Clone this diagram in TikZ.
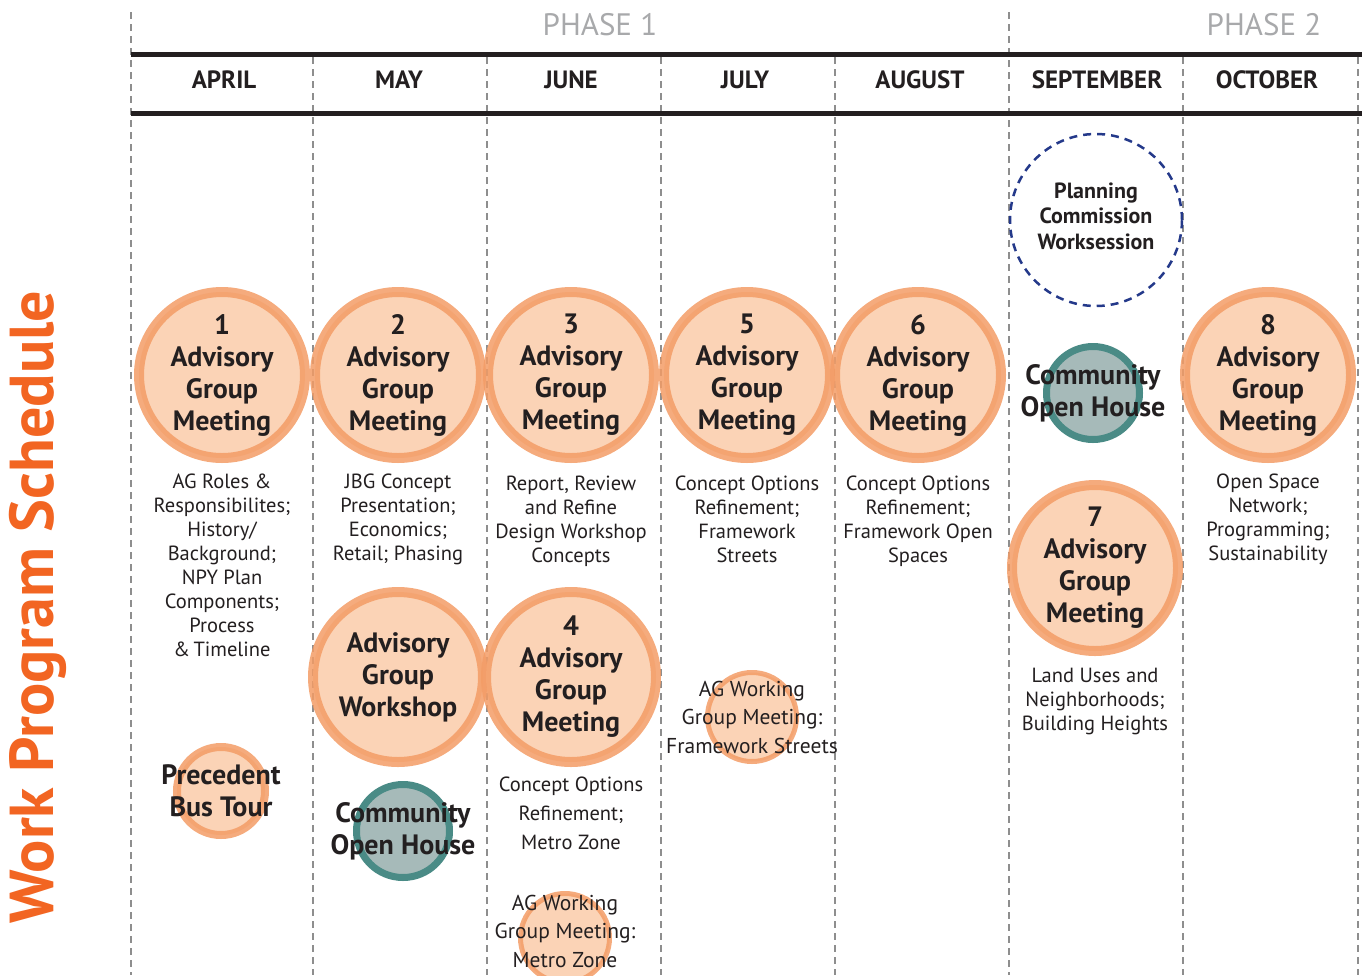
\documentclass[tikz,border=0pt]{standalone}
\usepackage{fontspec}
\setmainfont{PT Sans}
\usetikzlibrary{positioning}
\definecolor{ink}{HTML}{231F20}
\definecolor{ringorange}{HTML}{F39C66}
\definecolor{peach}{HTML}{FBD3B6}
\definecolor{tealring}{HTML}{4A8B86}
\definecolor{slate}{HTML}{A6BAB9}
\definecolor{navy}{HTML}{24398A}
\definecolor{titleorange}{HTML}{F26522}
\definecolor{phasegray}{HTML}{A8A9AB}
\definecolor{gridgray}{HTML}{8E8E8E}
\tikzset{
  agcircle/.style={
    circle,
    fill=peach,
    draw=ringorange,
    draw opacity=0.85,
    line width=10pt,
    inner sep=0pt,
    minimum size=166pt
  },
  bigcircle/.style={agcircle, minimum size=170pt},
  tourcircle/.style={agcircle, line width=8pt, minimum size=88pt},
  workcircle/.style={agcircle, line width=5pt, minimum size=89pt},
  opencircle/.style={circle, fill=slate, draw=tealring, line width=7pt, inner sep=0pt, minimum size=93pt},
  pccircle/.style={circle, draw=navy, line width=2.5pt, dash pattern=on 8pt off 6pt, inner sep=0pt, minimum size=172pt},
  circtext/.style={
    align=center,
    inner sep=0pt,
    font=\fontsize{28}{32}\selectfont\bfseries,
    text=ink
  },
  pctext/.style={circtext, font=\fontsize{22}{25.5}\selectfont\bfseries},
  desc/.style={
    align=center,
    inner sep=0pt,
    font=\fontsize{20.5}{24}\selectfont,
    text=ink
  },
  wgtext/.style={desc, font=\fontsize{21.5}{28.5}\selectfont},
  month/.style={font=\fontsize{25}{30}\selectfont\bfseries, text=ink, inner sep=0pt},
  phase/.style={font=\fontsize{31}{36}\selectfont, text=phasegray, inner sep=0pt},
  monthrule/.style={line width=5pt, draw=ink},
  colline/.style={line width=2pt, draw=gridgray, dash pattern=on 7pt off 5pt}
}

\begin{document}
\begin{tikzpicture}[x=1pt,y=-1pt]
  \useasboundingbox (0,0) rectangle (1362,975);

  % grid
  \draw[colline] (131,12) -- (131,975);
  \draw[colline] (1009,12) -- (1009,975);
  \draw[colline] (313,57) -- (313,975);
  \draw[colline] (487,57) -- (487,975);
  \draw[colline] (661,57) -- (661,975);
  \draw[colline] (835,57) -- (835,975);
  \draw[colline] (1183,57) -- (1183,975);
  \draw[colline] (1358,57) -- (1358,975);
  \draw[monthrule] (131,54) -- (1362,54);
  \draw[monthrule] (131,113) -- (1362,113);

  % header
  \node[phase] (ph1) at (600,25) {PHASE 1};
  \node[phase] (ph2) at (1264,25) {PHASE 2};
  \node[month] (apr) at (224,80) {APRIL};
  \node[month] (may) at (399,80) {MAY};
  \node[month] (jun) at (571,80) {JUNE};
  \node[month] (jul) at (745,80) {JULY};
  \node[month] (aug) at (920,80) {AUGUST};
  \node[month] (sep) at (1097,80) {SEPTEMBER};
  \node[month] (oct) at (1267,80) {OCTOBER};

  \node[rotate=90, inner sep=0pt, text=titleorange, font=\fontsize{62}{66}\selectfont\bfseries] (title) at (38,607) {Work Program Schedule};

  % advisory group meetings
  \node[agcircle] (ag1) at (222,375) {};
  \node[agcircle] (ag2) at (398,375) {};
  \node[agcircle] (ag3) at (571,375) {};
  \node[agcircle] (ag5) at (747,375) {};
  \node[agcircle] (ag6) at (918,375) {};
  \node[agcircle] (ag7) at (1095,568) {};
  \node[agcircle] (ag8) at (1268,375) {};
  \node[bigcircle] (agws) at (398,677) {};
  \node[bigcircle] (ag4) at (571,677) {};
  \node[circtext] (ag1t) at (ag1) {1\\Advisory\\Group\\Meeting};
  \node[circtext] (ag2t) at (ag2) {2\\Advisory\\Group\\Meeting};
  \node[circtext] (ag3t) at (ag3) {3\\Advisory\\Group\\Meeting};
  \node[circtext] (ag5t) at (ag5) {5\\Advisory\\Group\\Meeting};
  \node[circtext] (ag6t) at (ag6) {6\\Advisory\\Group\\Meeting};
  \node[circtext] (ag7t) at (ag7) {7\\Advisory\\Group\\Meeting};
  \node[circtext] (ag8t) at (ag8) {8\\Advisory\\Group\\Meeting};
  \node[circtext] (agwst) at (agws) {Advisory\\Group\\Workshop};
  \node[circtext] (ag4t) at (ag4) {4\\Advisory\\Group\\Meeting};

  % topics
  \node[desc, below=11pt of ag1] (d1) {AG Roles \&\\Responsibilites;\\History/\\Background;\\NPY Plan\\Components;\\Process\\\&\,Timeline};
  \node[desc, below=11pt of ag2] (d2) {JBG Concept\\Presentation;\\Economics;\\Retail; Phasing};
  \node[desc, below=13pt of ag3] (d3) {Report, Review\\and Refine\\Design Workshop\\Concepts};
  \node[desc, below=13pt of ag5] (d5) {Concept Options\\Refinement;\\Framework\\Streets};
  \node[desc, below=13pt of ag6] (d6) {Concept Options\\Refinement;\\Framework Open\\Spaces};
  \node[desc, below=11pt of ag8] (d8) {Open Space\\Network;\\Programming;\\Sustainability};
  \node[desc, below=12pt of ag7] (d7) {Land Uses and\\Neighborhoods;\\Building Heights};
  \node[desc, font=\fontsize{20.5}{29}\selectfont, below=10pt of ag4] (d4) {Concept Options\\Refinement;\\Metro Zone};

  % other events
  \node[tourcircle] (tour) at (221,791) {};
  \node[circtext] (tourt) at (tour) {Precedent\\Bus Tour};
  \node[opencircle] (open1) at (403,831) {};
  \node[circtext] (open1t) at (open1) {Community\\Open House};
  \node[opencircle] (open2) at (1093,393) {};
  \node[circtext] (open2t) at (open2) {Community\\Open House};
  \node[pccircle] (pc) at (1096,220) {};
  \node[pctext] (pct) at (1096,216) {Planning\\Commission\\Worksession};
  \node[workcircle] (wg1) at (752,717) {};
  \node[wgtext] (wg1t) at (wg1) {AG Working\\Group Meeting:\\Framework Streets};
  \node[workcircle] (wg2) at (565,938) {};
  \node[wgtext] (wg2t) at (565,931) {AG Working\\Group Meeting:\\Metro Zone};
\end{tikzpicture}
\end{document}
